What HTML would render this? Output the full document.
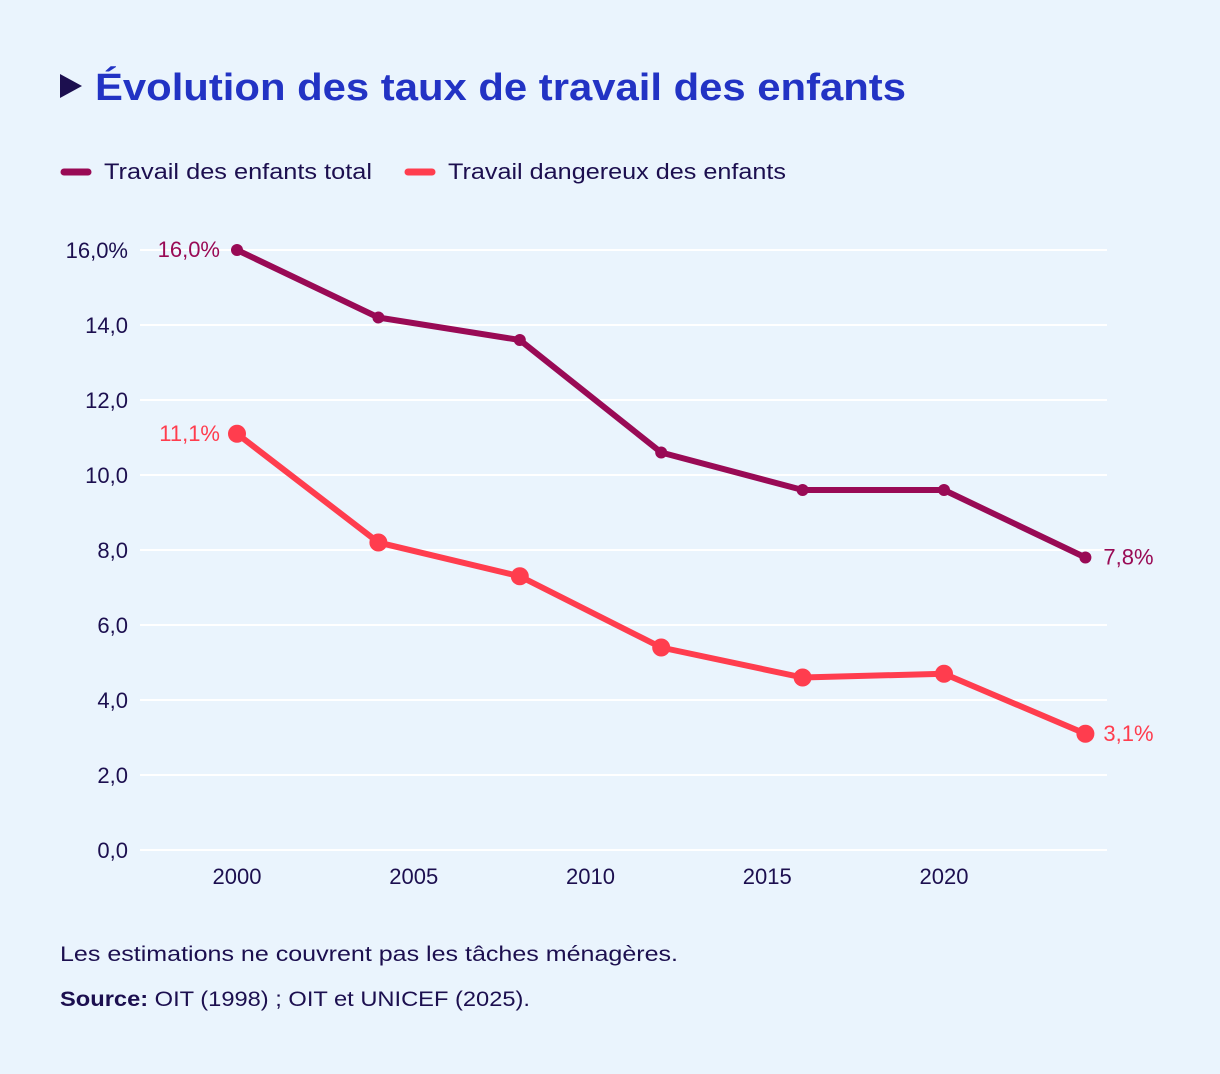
<!DOCTYPE html>
<html><head><meta charset="utf-8"><style>
body{margin:0;background:#eaf4fd;font-family:"Liberation Sans",sans-serif;color:#1c0f4f}
#wrap{position:relative;width:1220px;height:1074px;overflow:hidden}
</style></head><body>
<div id="wrap">
<svg width="1220" height="1074">
<polygon points="60,74 82,86 60,98" fill="#1c0f4f"/>
<text x="95" y="100" font-size="38" font-weight="bold" fill="#2233c4" textLength="811" lengthAdjust="spacingAndGlyphs">Évolution des taux de travail des enfants</text>
<g>
<line x1="64" y1="172" x2="88" y2="172" stroke="#990a55" stroke-width="7" stroke-linecap="round"/>
<text x="104" y="179" font-size="22" fill="#1c0f4f" textLength="268" lengthAdjust="spacingAndGlyphs">Travail des enfants total</text>
<line x1="408" y1="172" x2="432" y2="172" stroke="#ff3d4e" stroke-width="7" stroke-linecap="round"/>
<text x="448" y="179" font-size="22" fill="#1c0f4f" textLength="338" lengthAdjust="spacingAndGlyphs">Travail dangereux des enfants</text>
</g>
<g id="grid"></g><g id="axes"></g><g id="series"></g>
<text x="60" y="961" font-size="21" fill="#1c0f4f" textLength="618" lengthAdjust="spacingAndGlyphs">Les estimations ne couvrent pas les tâches ménagères.</text>
<text x="60" y="1006" font-size="21" fill="#1c0f4f" textLength="470" lengthAdjust="spacingAndGlyphs"><tspan font-weight="bold">Source:</tspan> OIT (1998) ; OIT et UNICEF (2025).</text>
</svg>
</div>
<script>
const years=[2000,2004,2008,2012,2016,2020,2024];
const totalVals=[16.0,14.2,13.6,10.6,9.6,9.6,7.8];
const dangerVals=[11.1,8.2,7.3,5.4,4.6,4.7,3.1];
const yTicks=[0,2,4,6,8,10,12,14,16];
const yTickLabels=["0,0","2,0","4,0","6,0","8,0","10,0","12,0","14,0","16,0%"];
const xTicks=[2000,2005,2010,2015,2020];
const NS="http://www.w3.org/2000/svg";
const X=v=>237+(v-2000)*(944-237)/20;
const Y=v=>850-v*37.5;
function mk(tag,attrs,parent){const e=document.createElementNS(NS,tag);for(const k in attrs)e.setAttribute(k,attrs[k]);parent.appendChild(e);return e;}
const grid=document.getElementById('grid'),axes=document.getElementById('axes'),series=document.getElementById('series');
yTicks.forEach((t,i)=>{
 const l=mk('line',{x1:140,x2:1107,y1:Y(t),y2:Y(t),stroke:'#ffffff','stroke-width':2},grid);
 
 
 const tx=mk('text',{x:128,y:Y(t)+8,'text-anchor':'end','font-size':22,fill:'#1c0f4f'},axes);
 tx.textContent=yTickLabels[i];
 
 
});
xTicks.forEach(t=>{
 const tx=mk('text',{x:X(t),y:884,'text-anchor':'middle','font-size':22,fill:'#1c0f4f'},axes);
 tx.textContent=t;
 
 
});
function drawSeries(vals,color,r,name){
 const p=mk('polyline',{points:vals.map((v,i)=>X(years[i])+','+Y(v)).join(' '),fill:'none',stroke:color,'stroke-width':6,'stroke-linejoin':'round'},series);
 
 
 vals.forEach((v,i)=>{
  const c=mk('circle',{cx:X(years[i]),cy:Y(v),r:r,fill:color},series);
  
  
 });
 const f=mk('text',{x:X(years[0])-17,y:Y(vals[0])+7,'text-anchor':'end','font-size':22,fill:color},series);
 f.textContent=vals[0].toFixed(1).replace('.',',')+'%';
 
 
 const n=vals.length-1;
 const e=mk('text',{x:X(years[n])+18,y:Y(vals[n])+7,'font-size':22,fill:color},series);
 e.textContent=vals[n].toFixed(1).replace('.',',')+'%';
 
 
}
drawSeries(totalVals,'#990a55',6,'total');
drawSeries(dangerVals,'#ff3d4e',9,'dangerous');
</script>
</body></html>
